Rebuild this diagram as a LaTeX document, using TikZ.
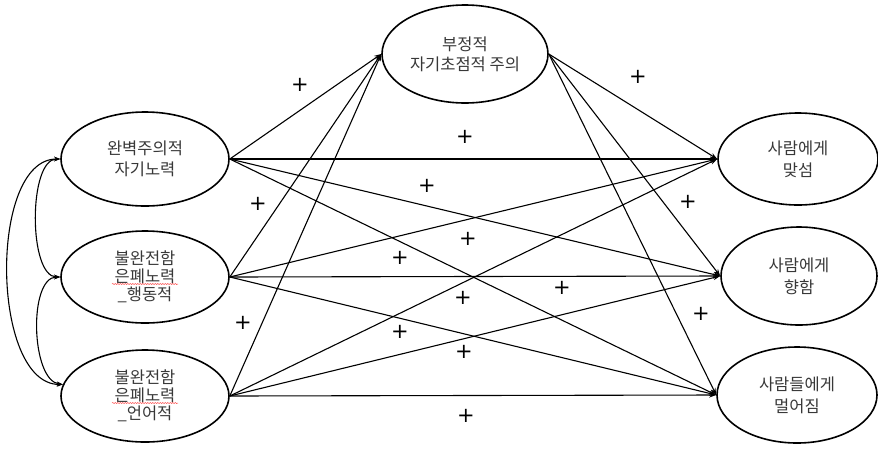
\documentclass[tikz,border=0pt]{standalone}
\usepackage{fontspec}
\newfontfamily\kr{Noto Sans CJK KR}
\newfontfamily\dv{DejaVu Sans}
\usetikzlibrary{shapes.geometric,arrows.meta,decorations.pathmorphing}
\tikzset{
  latent/.style={ellipse,draw,line width=1.6pt,inner sep=0pt,align=center,
    font=\kr\fontsize{16.5}{21}\selectfont,text=black!78},
  path/.style={line width=1.1pt,-{Stealth[length=7pt,width=5pt]}},
  cov/.style={line width=1.1pt,{Stealth[length=6pt,width=4.5pt]}-{Stealth[length=6pt,width=4.5pt]}},
  plus/.style={font=\dv\fontsize{21}{21}\selectfont,inner sep=0pt},
  squig/.style={draw=red!70,line width=0.5pt,decorate,decoration={snake,segment length=2.5pt,amplitude=0.6pt}}
}
\begin{document}
\begin{tikzpicture}[x=1pt,y=-1pt]
\useasboundingbox (0,0) rectangle (878,448);
\node[latent,minimum width=168pt,minimum height=94pt] (A) at (145,159) {완벽주의적\\자기노력};
\node[latent,minimum width=168pt,minimum height=92pt,font=\kr\fontsize{16.5}{18}\selectfont] (B) at (145,277) {불완전함\\은폐노력\\\_행동적};
\node[latent,minimum width=168pt,minimum height=92pt,font=\kr\fontsize{16.5}{18}\selectfont] (C) at (145,396) {불완전함\\은폐노력\\\_언어적};
\node[latent,minimum width=166pt,minimum height=98pt,font=\kr\fontsize{16.5}{20}\selectfont] (D) at (465,54) {부정적\\자기초점적 주의};
\node[latent,minimum width=160pt,minimum height=92pt,font=\kr\fontsize{16.5}{22}\selectfont] (E) at (798,159) {사람에게\\맞섬};
\node[latent,minimum width=156pt,minimum height=98pt,font=\kr\fontsize{16.5}{22}\selectfont] (F) at (799,276) {사람에게\\향함};
\node[latent,minimum width=160pt,minimum height=96pt,font=\kr\fontsize{16.5}{22}\selectfont] (G) at (797,395) {사람들에게\\멀어짐};
% spell-check squiggles
\draw[squig] ([xshift=-33pt,yshift=-7pt]B.center) -- ([xshift=33pt,yshift=-7pt]B.center);
\draw[squig] ([xshift=-33pt,yshift=-7pt]C.center) -- ([xshift=33pt,yshift=-7pt]C.center);
% paths
\foreach \s in {A,B,C}{
  \draw[path] (\s.east) -- (D.west);
  \foreach \t in {E,F,G}{ \draw[path] (\s.east) -- (\t.west); }
}
\foreach \t in {E,F,G}{ \draw[path] (D.east) -- (\t.west); }
% covariances
\draw[cov] (A.west) .. controls +(-32,0) and +(-32,0) .. (B.west);
\draw[cov] (B.west) .. controls +(-32,0) and +(-32,-4) .. (C.172);
\draw[cov] (A.west) .. controls +(-72,0) and +(-72,0) .. (C.172);
% plus labels
\node[plus] (p1) at (300,85) {+};
\node[plus] (p2) at (638,77) {+};
\node[plus] (p3) at (465,137) {+};
\node[plus] (p4) at (427,186) {+};
\node[plus] (p5) at (258,204) {+};
\node[plus] (p6) at (688,202) {+};
\node[plus] (p7) at (468,239) {+};
\node[plus] (p8) at (400,258) {+};
\node[plus] (p9) at (562,288) {+};
\node[plus] (p10) at (463,298) {+};
\node[plus] (p11) at (243,323) {+};
\node[plus] (p12) at (701,314) {+};
\node[plus] (p13) at (400,332) {+};
\node[plus] (p14) at (464,352) {+};
\node[plus] (p15) at (466,416) {+};
\end{tikzpicture}
\end{document}
